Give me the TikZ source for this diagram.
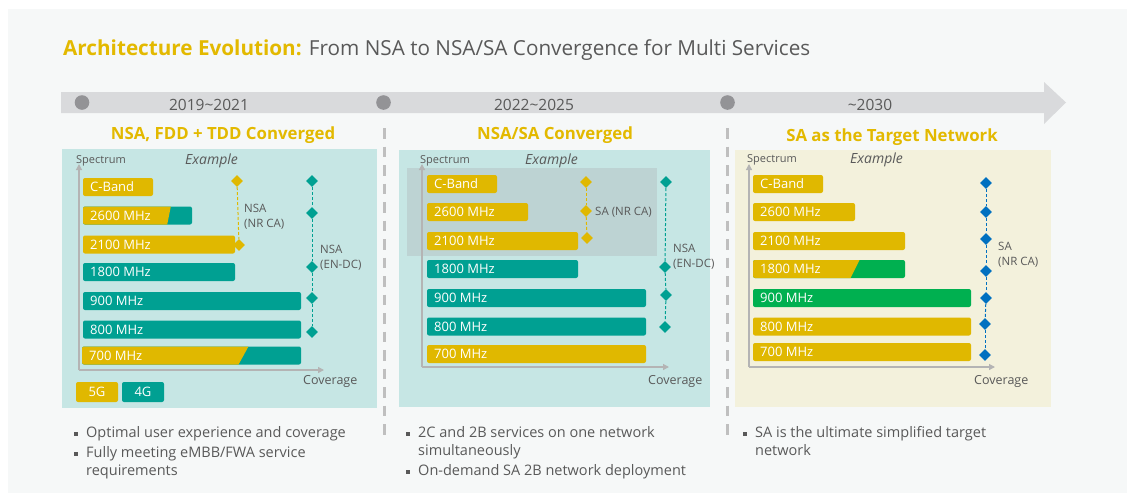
\documentclass[tikz,border=0pt]{standalone}
\usepackage{fontspec}
\setmainfont{Open Sans}
\usetikzlibrary{shapes.geometric,arrows.meta}
\definecolor{yl}{HTML}{E0B800}
\definecolor{ttl}{HTML}{E3B900}
\definecolor{tl}{HTML}{00A092}
\definecolor{gr}{HTML}{00B050}
\definecolor{bl}{HTML}{0070C0}
\definecolor{bgc}{HTML}{F6F8F8}
\definecolor{pteal}{HTML}{C6E6E4}
\definecolor{pyel}{HTML}{F3F1DC}
\definecolor{ovl}{HTML}{BDD3D3}
\definecolor{band}{HTML}{D9DADC}
\definecolor{dotc}{HTML}{939396}
\definecolor{txt}{HTML}{595959}
\definecolor{axc}{HTML}{B4B4B4}
\definecolor{sepc}{HTML}{BFBFBF}
% #1 name, #2 left, #3 centre y, #4 right, #5 colour, #6 text
\newcommand{\mkbar}[6]{%
  \node[barbox, fill=#5, minimum width={#4-#2}] (#1) at (#2,#3) {};
  \node[bartext] (#1t) at ([xshift=7pt]#1.west) {#6};}
% #1 name, #2 left, #3 cy, #4 right, #5 base colour, #6 over colour, #7 top x, #8 bottom x, #9 text
\newcommand{\mksplit}[9]{%
  \node[barbox, fill=#5, minimum width={#4-#2}] (#1) at (#2,#3) {};
  \begin{scope}
    \clip[rounded corners=2pt] (#1.south west) rectangle (#1.north east);
    \fill[#6] (#2,#3-10) -- (#7,#3-10) -- (#8,#3+10) -- (#2,#3+10) -- cycle;
  \end{scope}
  \node[bartext] (#1t) at ([xshift=7pt]#1.west) {#9};}
\begin{document}
\begin{tikzpicture}[x=1pt,y=-1pt,
  barbox/.style={draw=none, rounded corners=2pt, minimum height=18pt, inner sep=0pt, outer sep=0pt, anchor=west},
  bartext/.style={font=\fontsize{13}{13}\selectfont, text=white, inner sep=0pt, text height=9.2pt, text depth=0pt, anchor=west},
  dia/.style={diamond, aspect=1, inner sep=0pt, minimum size=12pt},
  dline/.style={dash pattern=on 3pt off 2pt, line width=1pt},
  lbl/.style={font=\fontsize{11.5}{14}\selectfont, text=txt, inner sep=0pt, anchor=base west},
  spec/.style={font=\fontsize{11}{11}\selectfont, text=txt, inner sep=0pt, anchor=base west},
  exm/.style={font=\fontsize{14}{14}\selectfont\itshape, text=txt, inner sep=0pt, anchor=base west},
  cov/.style={font=\fontsize{12.5}{13}\selectfont, text=txt, inner sep=0pt, anchor=base west},
  axis/.style={draw=axc, line width=1.3pt, -{Triangle[length=6pt,width=6pt]}},
  year/.style={font=\fontsize{15.5}{16}\selectfont, text=txt, inner sep=0pt, anchor=base},
  sect/.style={font=\fontsize{16.8}{17}\selectfont\bfseries, text=ttl, inner sep=0pt, anchor=base},
  bul/.style={font=\fontsize{14.5}{15}\selectfont, text=txt, inner sep=0pt, anchor=base west},
  sq/.style={fill=txt, minimum size=4pt, inner sep=0pt},
  sepline/.style={draw=sepc, line width=2.7pt, dash pattern=on 10.5pt off 8pt},
  leg/.style={rounded corners=2pt, minimum width=42pt, minimum height=20pt, inner sep=0pt, text=white, font=\fontsize{13}{13}\selectfont}
]
\useasboundingbox (0,0) rectangle (1127,493);
\fill[white] (0,0) rectangle (1127,493);
\fill[bgc] (8,9) rectangle (1127,493);

% title
\node[font=\fontsize{20.7}{21}\selectfont, text=txt, inner sep=0pt, anchor=base west] (title) at (63,55)
  {{\color{ttl}\bfseries Architecture Evolution:} From NSA to NSA/SA Convergence for Multi Services};

% timeline arrow
\fill[band] (61,92) -- (1044,92) -- (1044,82) -- (1066,102.5) -- (1044,124) -- (1044,113) -- (61,113) -- cycle;
\fill[dotc] (82,102.5) circle (7.3);
\fill[dotc] (383.5,102.5) circle (7.3);
\fill[dotc] (727.5,102.5) circle (7.3);
\node[year] (y1) at (209,110.5) {2019\textasciitilde 2021};
\node[year] (y2) at (534,110.5) {2022\textasciitilde 2025};
\node[year] (y3) at (870,110.5) {\textasciitilde 2030};

% separators
\draw[sepline] (384.3,128) -- (384.3,440);
\draw[sepline] (727.5,128) -- (727.5,440);

% section titles
\node[sect] (s1) at (223,139) {NSA, FDD + TDD Converged};
\node[sect] (s2) at (555,139) {NSA/SA Converged};
\node[sect] (s3) at (892,141) {SA as the Target Network};

% panels
\fill[pteal] (62,149) rectangle (377,407.5);
\fill[pteal] (399,150) rectangle (710,407);
\fill[pyel] (735,150) rectangle (1051,407);

%================ panel 1
\draw[axis] (79,370) -- (79,164);
\draw[axis] (79,370) -- (324,370);
\node[spec] (sp1) at (76,163) {Spectrum};
\node[exm] (ex1) at (185,164) {Example};
\node[cov] (cv1) at (303,384) {Coverage};

\mkbar{a1}{83}{187}{153}{yl}{C-Band}
\mksplit{a2}{83}{215.5}{192}{tl}{yl}{171}{167}{2600 MHz}
\mkbar{a3}{83}{244.5}{235}{yl}{2100 MHz}
\mkbar{a4}{83}{272}{235}{tl}{1800 MHz}
\mkbar{a5}{83}{301}{301}{tl}{900 MHz}
\mkbar{a6}{83}{329.5}{301}{tl}{800 MHz}
\mksplit{a7}{82}{355.5}{301}{tl}{yl}{249}{238}{700 MHz}

\node[dia, fill=yl] (ay1) at (237,181) {};
\node[dia, fill=yl] (ay2) at (239,245) {};
\draw[dline, yl] (ay1) -- (ay2);
\node[lbl] (an1) at (244,212) {NSA};
\node[lbl] (an2) at (244,227) {(NR CA)};

\node[dia, fill=tl] (at1) at (312,181) {};
\node[dia, fill=tl] (at2) at (312,213) {};
\node[dia, fill=tl] (at3) at (312,267) {};
\node[dia, fill=tl] (at4) at (312,298) {};
\node[dia, fill=tl] (at5) at (312,332) {};
\draw[dline, tl] (at1) -- (at2);
\draw[dline, tl] (at2) -- (at3);
\draw[dline, tl] (at3) -- (at4);
\draw[dline, tl] (at4) -- (at5);
\node[lbl] (ae1) at (320,253) {NSA};
\node[lbl] (ae2) at (320,268) {(EN-DC)};

\node[leg, fill=yl] (g5) at (97,392) {5G};
\node[leg, fill=tl] (g4) at (143,392) {4G};

%================ panel 2
\fill[ovl] (407,168) rectangle (657,256);
\draw[axis] (422,367) -- (422,164);
\draw[axis] (422,367) -- (669,367);
\node[spec] (sp2) at (420,163) {Spectrum};
\node[exm] (ex2) at (525,164) {Example};
\node[cov] (cv2) at (648,384) {Coverage};

\mkbar{b1}{427}{184}{497}{yl}{C-Band}
\mkbar{b2}{427}{212}{528}{yl}{2600 MHz}
\mkbar{b3}{427}{241}{578}{yl}{2100 MHz}
\mkbar{b4}{427}{269}{578}{tl}{1800 MHz}
\mkbar{b5}{427}{298}{646}{tl}{900 MHz}
\mkbar{b6}{427}{326.5}{646}{tl}{800 MHz}
\mkbar{b7}{427}{354}{646}{yl}{700 MHz}

\node[dia, fill=yl] (by1) at (586,182) {};
\node[dia, fill=yl] (by2) at (586,211) {};
\node[dia, fill=yl] (by3) at (587,238) {};
\draw[dline, yl] (by1) -- (by2);
\draw[dline, yl] (by2) -- (by3);
\node[lbl] (bs1) at (595,215) {SA (NR CA)};

\node[dia, fill=tl] (bt1) at (666,182) {};
\node[dia, fill=tl] (bt2) at (665,267) {};
\node[dia, fill=tl] (bt3) at (666,295) {};
\node[dia, fill=tl] (bt4) at (665,327) {};
\draw[dline, tl] (bt1) -- (bt2);
\draw[dline, tl] (bt2) -- (bt3);
\draw[dline, tl] (bt3) -- (bt4);
\node[lbl] (be1) at (673,252) {NSA};
\node[lbl] (be2) at (673,267) {(EN-DC)};

%================ panel 3
\draw[axis] (749,367) -- (749,164);
\draw[axis] (749,367) -- (995,367);
\node[spec] (sp3) at (747,162) {Spectrum};
\node[exm] (ex3) at (850,163) {Example};
\node[cov] (cv3) at (974,384) {Coverage};

\mkbar{c1}{753}{184}{823}{yl}{C-Band}
\mkbar{c2}{753}{212}{855}{yl}{2600 MHz}
\mkbar{c3}{753}{241}{905}{yl}{2100 MHz}
\mksplit{c4}{753}{269}{905}{gr}{yl}{860}{850}{1800 MHz}
\mkbar{c5}{753}{298}{971}{gr}{900 MHz}
\mkbar{c6}{753}{326.5}{971}{yl}{800 MHz}
\mkbar{c7}{753}{352}{971}{yl}{700 MHz}

\node[dia, fill=bl] (cb1) at (986,183) {};
\node[dia, fill=bl] (cb2) at (986,212) {};
\node[dia, fill=bl] (cb3) at (986,239) {};
\node[dia, fill=bl] (cb4) at (986,271) {};
\node[dia, fill=bl] (cb5) at (986,298) {};
\node[dia, fill=bl] (cb6) at (985,324) {};
\node[dia, fill=bl] (cb7) at (985,355) {};
\draw[dline, bl] (cb1) -- (cb2);
\draw[dline, bl] (cb2) -- (cb3);
\draw[dline, bl] (cb3) -- (cb4);
\draw[dline, bl] (cb4) -- (cb5);
\draw[dline, bl] (cb5) -- (cb6);
\draw[dline, bl] (cb6) -- (cb7);
\node[lbl] (cs1) at (998,250) {SA};
\node[lbl] (cs2) at (998,265) {(NR CA)};

%================ bullets
\node[sq] (q1) at (75.5,434) {};
\node[bul] (l1) at (86,437) {Optimal user experience and coverage};
\node[sq] (q2) at (75.5,454) {};
\node[bul] (l2) at (86,457) {Fully meeting eMBB/FWA service};
\node[bul] (l3) at (86,475) {requirements};

\node[sq] (q3) at (408,434) {};
\node[bul] (m1) at (418,437) {2C and 2B services on one network};
\node[bul] (m2) at (418,455) {simultaneously};
\node[sq] (q4) at (408,472) {};
\node[bul] (m3) at (418,475) {On-demand SA 2B network deployment};

\node[sq] (q5) at (745,434) {};
\node[bul] (r1) at (755,437) {SA is the ultimate simplified target};
\node[bul] (r2) at (755,455) {network};
\end{tikzpicture}
\end{document}
